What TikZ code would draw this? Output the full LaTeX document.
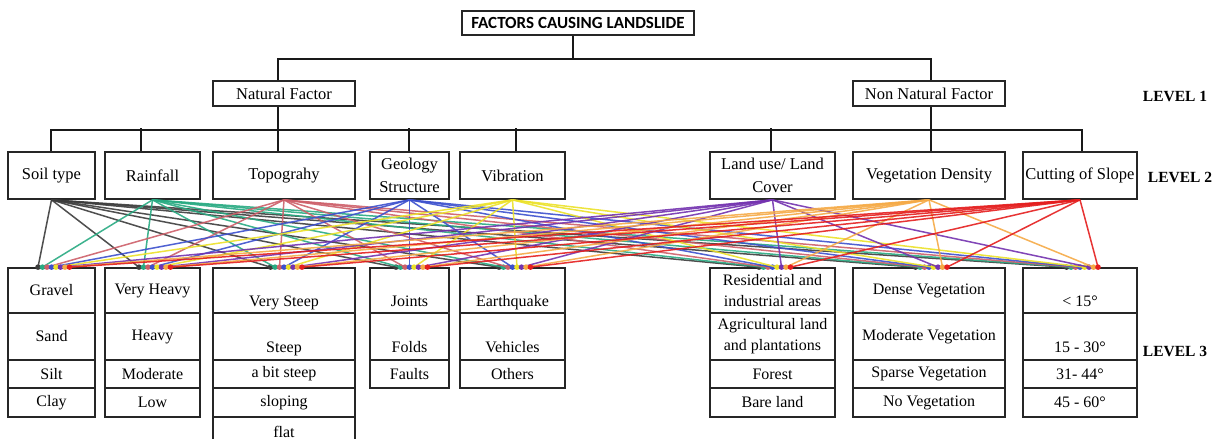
\documentclass[tikz,border=0pt]{standalone}
\usepackage{fontspec}
\setmainfont{Liberation Serif}
\newfontfamily\calibrifont{Carlito}
\usetikzlibrary{positioning}

\definecolor{csoil}{RGB}{60,60,60}
\definecolor{crain}{RGB}{40,170,130}
\definecolor{ctopo}{RGB}{205,95,105}
\definecolor{cgeo}{RGB}{60,80,205}
\definecolor{cvib}{RGB}{235,225,40}
\definecolor{cland}{RGB}{115,50,175}
\definecolor{cveg}{RGB}{245,170,70}
\definecolor{ccut}{RGB}{228,30,30}

\newcommand{\lowtxt}[1]{\raisebox{-16pt}[0pt][0pt]{#1}}

\tikzset{
  box/.style={draw=black!85, line width=1.7pt, inner sep=1pt, align=center,
    font=\rmfamily\fontsize{16}{21}\selectfont},
  lv1/.style={box, minimum height=25pt, font=\rmfamily\fontsize{16.5}{21}\selectfont},
  fac/.style={box, minimum height=47pt, font=\rmfamily\fontsize{16.5}{23}\selectfont},
  cell/.style={box},
  bus/.style={line width=2.4pt, black!90},
  mesh/.style={line width=1.5pt, opacity=0.9},
  lvl/.style={font=\rmfamily\fontsize{15.5}{19}\selectfont\bfseries},
}

\begin{document}
\begin{tikzpicture}[x=1pt,y=-1pt]
		\useasboundingbox (0,0) rectangle (1221,439);
		\clip (0,0) rectangle (1221,439);

		\node[box, font=\calibrifont\bfseries\fontsize{17}{19}\selectfont, minimum width=232pt, minimum height=24pt] (title) at (578,23) {FACTORS CAUSING LANDSLIDE};

		\node[lv1, minimum width=142pt] (nat) at (284,93.5) {Natural Factor};
		\node[lv1, minimum width=152pt] (non) at (929,93.5) {Non Natural Factor};

		\node[fac, minimum width=87pt] (soil) at (51.5,175.5) {Soil type};
		\node[fac, minimum width=95pt] (rain) at (152.5,175.5) {Rainfall};
		\node[fac, minimum width=142pt] (topo) at (284,175.5) {Topograhy};
		\node[fac, minimum width=79pt] (geo) at (409.5,175.5) {Geology\\Structure};
		\node[fac, minimum width=105pt] (vib) at (512.5,175.5) {Vibration};
		\node[fac, minimum width=125pt] (land) at (772.5,175.5) {Land use/ Land\\Cover};
		\node[fac, minimum width=152pt] (veg) at (929,175.5) {Vegetation Density};
		\node[fac, minimum width=114pt] (cut) at (1080,175.5) {Cutting of Slope};

		\draw[bus] ([xshift=-5pt]title.south) -- ++(0,23) coordinate (tj);
		\draw[bus] ([xshift=-6pt]nat.north) |- (tj) -| ([xshift=2pt]non.north);
		\draw[bus] ([xshift=-6pt]nat.south) -- ++(0,23) coordinate (nj);
		\draw[bus] ([xshift=-0.5pt]soil.north) |- (nj) -| ([xshift=2pt]cut.north);
		\draw[bus] ([xshift=2pt]non.south) -- ([xshift=2pt]veg.north);
		\foreach \n/\d in {rain/-11.5, topo/-6, geo/-0.5, vib/3.5, land/-1.5}
			\draw[bus] ([xshift=\d pt]\n.north) -- ++(0,-23);

		\foreach \r/\y/\h/\t in {1/290.5/45/Gravel, 2/336.5/47/Sand, 3/374/28/Silt, 4/402.5/29/Clay}
			\node[cell, minimum width=87pt, minimum height=\h pt] (s\r) at (51.5,\y) {\t};
		\foreach \r/\y/\h/\t in {1/290.5/45/Very Heavy, 2/336.5/47/Heavy, 3/374/28/Moderate, 4/402.5/29/Low}
			\node[cell, minimum width=95pt, minimum height=\h pt] (r\r) at (152.5,\y) {\t};
		\foreach \r/\y/\h/\t in {1/290.5/45/\lowtxt{Very Steep}, 2/336.5/47/\lowtxt{Steep}, 3/374/28/a bit steep, 4/402.5/29/sloping, 5/432/30/flat}
			\node[cell, minimum width=142pt, minimum height=\h pt] (t\r) at (284,\y) {\t};
		\foreach \r/\y/\h/\t in {1/290.5/45/\lowtxt{Joints}, 2/336.5/47/\lowtxt{Folds}, 3/374/28/Faults}
			\node[cell, minimum width=79pt, minimum height=\h pt] (g\r) at (409.5,\y) {\t};
		\foreach \r/\y/\h/\t in {1/290.5/45/\lowtxt{Earthquake}, 2/336.5/47/\lowtxt{Vehicles}, 3/374/28/Others}
			\node[cell, minimum width=105pt, minimum height=\h pt] (v\r) at (512.5,\y) {\t};
		\foreach \r/\y/\h/\t in {1/290.5/45/Residential and\\industrial areas, 2/336.5/47/Agricultural land\\and plantations, 3/374/28/Forest, 4/402.5/29/Bare land}
			\node[cell, minimum width=125pt, minimum height=\h pt] (l\r) at (772.5,\y) {\t};
		\foreach \r/\y/\h/\t in {1/290.5/45/Dense Vegetation, 2/336.5/47/Moderate Vegetation, 3/374/28/Sparse Vegetation, 4/402.5/29/No Vegetation}
			\node[cell, minimum width=152pt, minimum height=\h pt] (d\r) at (929,\y) {\t};
		\foreach \r/\y/\h/\t in {1/290.5/45/\lowtxt{< 15°}, 2/336.5/47/\lowtxt{15 - 30°}, 3/374/28/31- 44°, 4/402.5/29/45 - 60°}
			\node[cell, minimum width=114pt, minimum height=\h pt] (c\r) at (1080,\y) {\t};

		\foreach \f/\cl [count=\i] in {soil/csoil, rain/crain, topo/ctopo, geo/cgeo, vib/cvib, land/cland, veg/cveg, cut/ccut}
			\foreach \k in {s1, r1, t1, g1, v1, l1, d1, c1} {
				\draw[mesh, \cl] (\f.south) -- ([xshift={(\i-4)*4.5}]\k.north);
				\fill[\cl] ([xshift={(\i-4)*4.5}]\k.north) circle (2.8pt);
			}

		\node[lvl] (lev1) at (1175,96) {LEVEL 1};
		\node[lvl] (lev2) at (1180,177) {LEVEL 2};
		\node[lvl] (lev3) at (1175,351) {LEVEL 3};
	\end{tikzpicture}
\end{document}
